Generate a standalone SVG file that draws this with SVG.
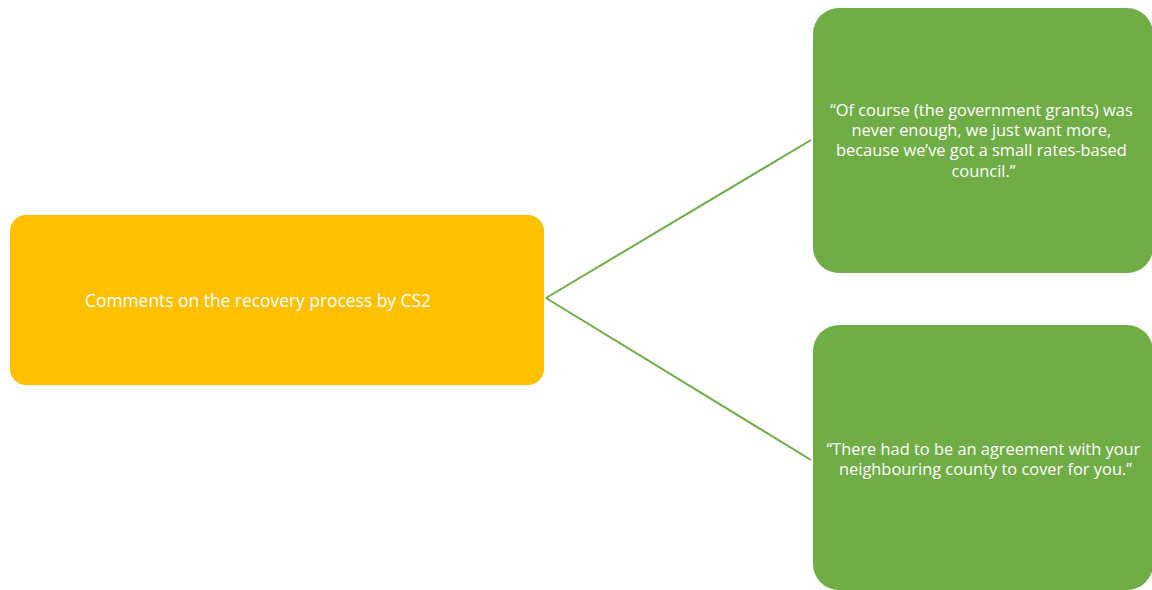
<svg xmlns="http://www.w3.org/2000/svg" width="1152" height="590" viewBox="0 0 1152 590">
  <style>
    .lbl { font-family: "Open Sans", "Liberation Sans", sans-serif; font-size: 16.4px; fill: #ffffff; text-anchor: middle; }
    .big { font-size: 17.4px; }
    .main { fill: #FFC000; }
    .leaf { fill: #70AD47; }
    .link { stroke: #70AD47; stroke-width: 2; fill: none; }
  </style>
  <rect width="1152" height="590" fill="#ffffff"/>
  <g id="connectors">
    <path class="link" d="M546 298 L811 140"/>
    <path class="link" d="M546 298 L811 460"/>
  </g>
  <g id="root">
    <rect class="main" x="10" y="215" width="534" height="170" rx="16"/>
    <text class="lbl big" x="258" y="307">Comments on the recovery process by CS2</text>
  </g>
  <g id="quote1">
    <rect class="leaf" x="813" y="8" width="340" height="265" rx="26"/>
    <text class="lbl">
      <tspan x="983.5" y="116">“Of course (the government grants) was</tspan>
      <tspan x="983.5" y="136">never enough, we just want more,</tspan>
      <tspan x="983.5" y="156">because we’ve got a small rates-based</tspan>
      <tspan x="983.5" y="177">council.”</tspan>
    </text>
  </g>
  <g id="quote2">
    <rect class="leaf" x="813" y="325" width="340" height="265" rx="26"/>
    <text class="lbl">
      <tspan x="985.5" y="455">“There had to be an agreement with your</tspan>
      <tspan x="985.5" y="475">neighbouring county to cover for you.”</tspan>
    </text>
  </g>
</svg>
